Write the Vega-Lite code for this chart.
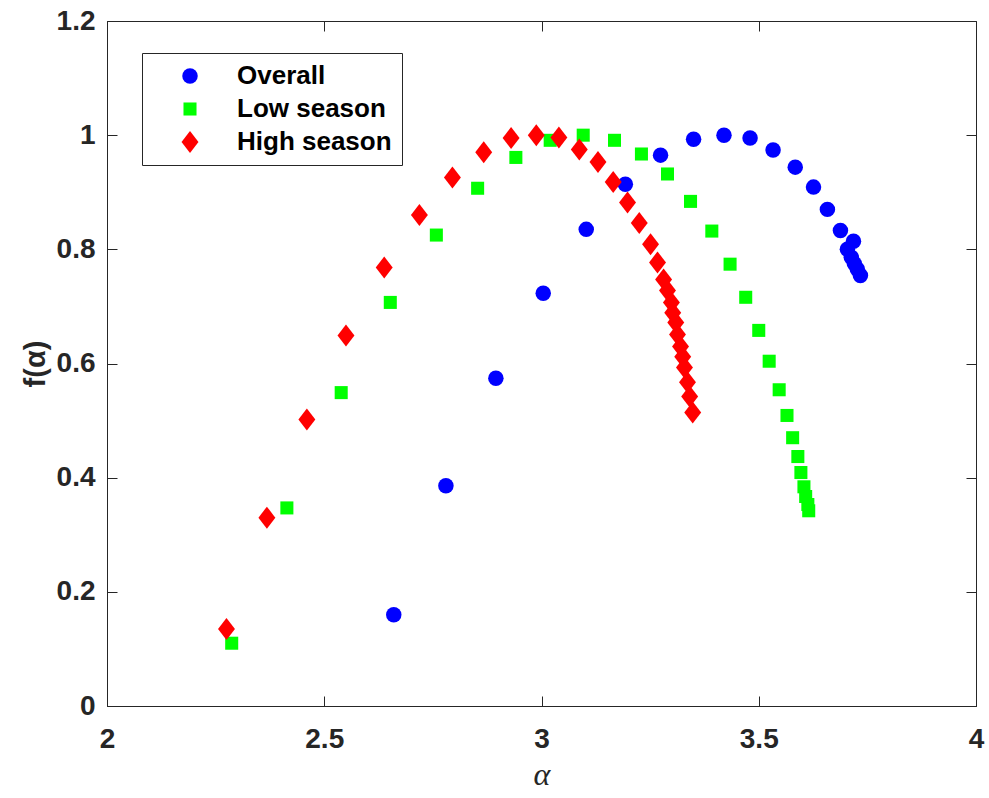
{
  "$schema": "https://vega.github.io/schema/vega-lite/v6.json",
  "width": 869,
  "height": 685,
  "autosize": "none",
  "padding": {"left": 107, "top": 21, "right": 13, "bottom": 92},
  "background": "white",
  "config": {
    "view": {"stroke": "#262626", "strokeWidth": 1},
    "font": "Liberation Sans"
  },
  "data": {
    "values": [
      {"s": "Overall", "a": 2.660, "f": 0.160},
      {"s": "Overall", "a": 2.780, "f": 0.386},
      {"s": "Overall", "a": 2.895, "f": 0.574},
      {"s": "Overall", "a": 3.004, "f": 0.723},
      {"s": "Overall", "a": 3.103, "f": 0.835},
      {"s": "Overall", "a": 3.193, "f": 0.914},
      {"s": "Overall", "a": 3.274, "f": 0.965},
      {"s": "Overall", "a": 3.350, "f": 0.993},
      {"s": "Overall", "a": 3.420, "f": 1.000},
      {"s": "Overall", "a": 3.480, "f": 0.995},
      {"s": "Overall", "a": 3.533, "f": 0.974},
      {"s": "Overall", "a": 3.584, "f": 0.944},
      {"s": "Overall", "a": 3.626, "f": 0.909},
      {"s": "Overall", "a": 3.658, "f": 0.870},
      {"s": "Overall", "a": 3.688, "f": 0.833},
      {"s": "Overall", "a": 3.718, "f": 0.814},
      {"s": "Overall", "a": 3.704, "f": 0.800},
      {"s": "Overall", "a": 3.713, "f": 0.786},
      {"s": "Overall", "a": 3.720, "f": 0.775},
      {"s": "Overall", "a": 3.727, "f": 0.765},
      {"s": "Overall", "a": 3.734, "f": 0.754},
      {"s": "Low season", "a": 2.287, "f": 0.110},
      {"s": "Low season", "a": 2.414, "f": 0.347},
      {"s": "Low season", "a": 2.539, "f": 0.549},
      {"s": "Low season", "a": 2.652, "f": 0.707},
      {"s": "Low season", "a": 2.758, "f": 0.825},
      {"s": "Low season", "a": 2.853, "f": 0.907},
      {"s": "Low season", "a": 2.941, "f": 0.961},
      {"s": "Low season", "a": 3.020, "f": 0.991},
      {"s": "Low season", "a": 3.096, "f": 1.000},
      {"s": "Low season", "a": 3.168, "f": 0.991},
      {"s": "Low season", "a": 3.230, "f": 0.967},
      {"s": "Low season", "a": 3.290, "f": 0.932},
      {"s": "Low season", "a": 3.343, "f": 0.884},
      {"s": "Low season", "a": 3.392, "f": 0.832},
      {"s": "Low season", "a": 3.434, "f": 0.774},
      {"s": "Low season", "a": 3.470, "f": 0.716},
      {"s": "Low season", "a": 3.500, "f": 0.658},
      {"s": "Low season", "a": 3.524, "f": 0.604},
      {"s": "Low season", "a": 3.547, "f": 0.554},
      {"s": "Low season", "a": 3.565, "f": 0.509},
      {"s": "Low season", "a": 3.578, "f": 0.470},
      {"s": "Low season", "a": 3.590, "f": 0.437},
      {"s": "Low season", "a": 3.597, "f": 0.409},
      {"s": "Low season", "a": 3.604, "f": 0.384},
      {"s": "Low season", "a": 3.608, "f": 0.367},
      {"s": "Low season", "a": 3.613, "f": 0.353},
      {"s": "Low season", "a": 3.615, "f": 0.342},
      {"s": "High season", "a": 2.275, "f": 0.135},
      {"s": "High season", "a": 2.368, "f": 0.330},
      {"s": "High season", "a": 2.460, "f": 0.502},
      {"s": "High season", "a": 2.550, "f": 0.649},
      {"s": "High season", "a": 2.638, "f": 0.768},
      {"s": "High season", "a": 2.719, "f": 0.860},
      {"s": "High season", "a": 2.795, "f": 0.926},
      {"s": "High season", "a": 2.867, "f": 0.970},
      {"s": "High season", "a": 2.930, "f": 0.995},
      {"s": "High season", "a": 2.988, "f": 1.000},
      {"s": "High season", "a": 3.040, "f": 0.996},
      {"s": "High season", "a": 3.087, "f": 0.975},
      {"s": "High season", "a": 3.130, "f": 0.953},
      {"s": "High season", "a": 3.165, "f": 0.918},
      {"s": "High season", "a": 3.198, "f": 0.882},
      {"s": "High season", "a": 3.225, "f": 0.846},
      {"s": "High season", "a": 3.251, "f": 0.809},
      {"s": "High season", "a": 3.267, "f": 0.777},
      {"s": "High season", "a": 3.281, "f": 0.747},
      {"s": "High season", "a": 3.290, "f": 0.728},
      {"s": "High season", "a": 3.299, "f": 0.707},
      {"s": "High season", "a": 3.302, "f": 0.689},
      {"s": "High season", "a": 3.309, "f": 0.672},
      {"s": "High season", "a": 3.313, "f": 0.651},
      {"s": "High season", "a": 3.320, "f": 0.630},
      {"s": "High season", "a": 3.325, "f": 0.612},
      {"s": "High season", "a": 3.329, "f": 0.593},
      {"s": "High season", "a": 3.336, "f": 0.567},
      {"s": "High season", "a": 3.341, "f": 0.542},
      {"s": "High season", "a": 3.348, "f": 0.514}
    ]
  },
  "layer": [
    {
      "mark": {"type": "point", "filled": true, "opacity": 1},
      "encoding": {
        "x": {
          "field": "a", "type": "quantitative",
          "scale": {"domain": [2, 4], "nice": false, "zero": false},
          "axis": {
            "orient": "bottom", "values": [2, 2.5, 3, 3.5, 4], "format": "~g", "grid": false, "ticks": false,
            "title": "α", "titleFont": "Liberation Serif", "titleFontStyle": "italic",
            "titleFontWeight": "normal", "titleFontSize": 32, "titlePadding": 6, "titleColor": "#262626",
            "labelFont": "Liberation Sans", "labelFontWeight": "bold", "labelFontSize": 28, "labelColor": "#262626",
            "domainColor": "#262626", "labelPadding": 19, "labelFlush": false
          }
        },
        "y": {
          "field": "f", "type": "quantitative",
          "scale": {"domain": [0, 1.2], "nice": false},
          "axis": {
            "orient": "left", "values": [0, 0.2, 0.4, 0.6, 0.8, 1, 1.2], "format": "~g", "grid": false, "ticks": false,
            "title": "f(α)", "titleFont": "Liberation Sans", "titleFontWeight": "bold", "titleFontSize": 29,
            "titlePadding": 6, "titleColor": "#262626",
            "labelFont": "Liberation Sans", "labelFontWeight": "bold", "labelFontSize": 28, "labelColor": "#262626",
            "domainColor": "#262626", "labelPadding": 12
          }
        },
        "color": {
          "field": "s", "type": "nominal",
          "scale": {"domain": ["Overall", "Low season", "High season"], "range": ["#0000FF", "#00FF00", "#FF0000"]},
          "legend": {
            "title": null, "orient": "none", "legendX": 35, "legendY": 32,
            "strokeColor": "#262626", "fillColor": "white", "padding": 10,
            "labelFont": "Liberation Sans", "labelFontWeight": "bold", "labelFontSize": 26, "labelColor": "black",
            "labelOffset": 34, "rowPadding": 7, "symbolOffset": 25, "labelLimit": 300
          }
        },
        "shape": {
          "field": "s", "type": "nominal",
          "scale": {"domain": ["Overall", "Low season", "High season"], "range": ["circle", "square", "M0,-1L0.77,0L0,1L-0.77,0Z"]}
        },
        "size": {
          "field": "s", "type": "nominal",
          "scale": {"type": "ordinal", "domain": ["Overall", "Low season", "High season"], "range": [240, 170, 484]}
        }
      }
    },
    {
      "mark": {"type": "point", "opacity": 0},
      "encoding": {
        "x": {
          "field": "a", "type": "quantitative",
          "scale": {"domain": [2, 4], "nice": false, "zero": false},
          "axis": {"orient": "bottom", "offset": -10, "values": [2, 2.5, 3, 3.5, 4], "labels": false, "title": null, "grid": false,
                   "domain": false, "tickColor": "#262626", "tickSize": 10}
        },
        "y": {
          "field": "f", "type": "quantitative",
          "scale": {"domain": [0, 1.2], "nice": false},
          "axis": {"orient": "left", "offset": -10, "values": [0, 0.2, 0.4, 0.6, 0.8, 1, 1.2], "labels": false, "title": null, "grid": false,
                   "domain": false, "tickColor": "#262626", "tickSize": 10}
        }
      }
    },
    {
      "mark": {"type": "point", "opacity": 0},
      "encoding": {
        "x": {
          "field": "a", "type": "quantitative",
          "scale": {"domain": [2, 4], "nice": false, "zero": false},
          "axis": {"orient": "top", "offset": -10, "values": [2, 2.5, 3, 3.5, 4], "labels": false, "title": null, "grid": false,
                   "domain": false, "tickColor": "#262626", "tickSize": 10}
        },
        "y": {
          "field": "f", "type": "quantitative",
          "scale": {"domain": [0, 1.2], "nice": false},
          "axis": {"orient": "right", "offset": -10, "values": [0, 0.2, 0.4, 0.6, 0.8, 1, 1.2], "labels": false, "title": null, "grid": false,
                   "domain": false, "tickColor": "#262626", "tickSize": 10}
        }
      }
    }
  ],
  "resolve": {"axis": {"x": "independent", "y": "independent"}}
}
